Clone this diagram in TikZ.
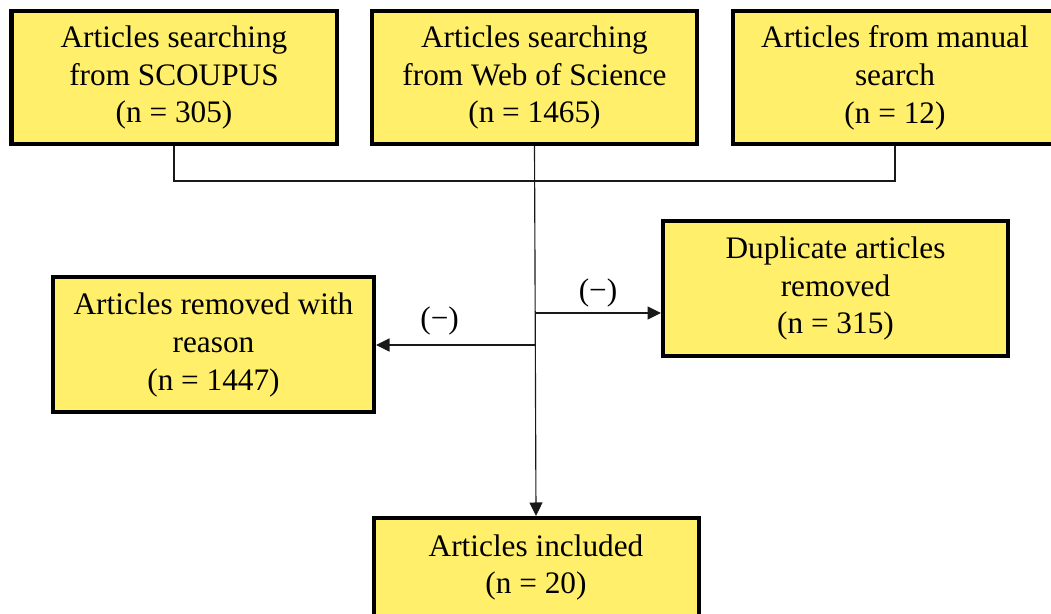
\documentclass[tikz,border=0pt]{standalone}
\usepackage{fontspec}
\setmainfont{Liberation Serif}
\usetikzlibrary{arrows.meta}

\tikzset{
  box/.style={draw=black, line width=0.08cm, fill=boxfill, align=center,
    inner sep=0pt, minimum width=6.5cm, minimum height=2.66cm,
    font=\fontsize{17.8}{21.6}\selectfont},
  conn/.style={draw=black!90, line width=0.65pt},
  arrow/.style={conn, -{Triangle[length=0.27cm,width=0.26cm]}},
  minus/.style={font=\fontsize{17.8}{21.6}\selectfont, inner sep=1pt}
}

\begin{document}
\begin{tikzpicture}
    \definecolor{boxfill}{HTML}{FFEF6B}
    \useasboundingbox (0cm,0cm) rectangle (21.02cm,12.28cm);  %Rahmen
    % Quellen oben
    \node[box] (scopus) at (3.48cm,10.73cm) {Articles searching\\from SCOUPUS\\(n = 305)};
    \node[box] (wos) at (10.69cm,10.73cm) {Articles searching\\from Web of Science\\(n = 1465)};
    \node[box] (manual) at (17.9cm,10.73cm) {Articles from manual\\search\\(n = 12)};
    % Ausschluss
    \node[box, minimum width=6.9cm, minimum height=2.7cm] (duplicate) at (16.71cm,6.51cm) {Duplicate articles\\removed\\(n = 315)};
    \node[box, minimum width=6.42cm, minimum height=2.7cm] (removed) at (4.27cm,5.38cm) {Articles removed with\\reason\\(n = 1447)};
    % Ergebnis
    \node[box, minimum height=1.98cm] (included) at (10.72cm,0.93cm) {Articles included\\(n = 20)};
    % Verbindungen
    \coordinate (join) at (10.7cm,8.66cm);
    \coordinate (dupjoin) at (10.7cm,6.02cm);
    \draw[conn] (scopus.south) |- (join) -| (manual.south);
    \draw[arrow] (wos.south) -- (included.north);
    \draw[arrow] (dupjoin) -- (dupjoin -| duplicate.west)
      node[minus, midway, above=2pt] (minusdup) {(−)};
    \draw[arrow] (removed.east -| dupjoin) -- (removed.east)
      node[minus, pos=0.6, above=4pt] (minusrem) {(−)};
  \end{tikzpicture}
\end{document}
